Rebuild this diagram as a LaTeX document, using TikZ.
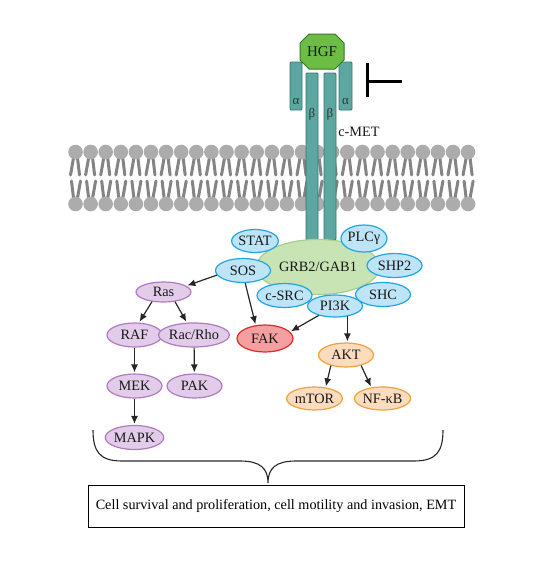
\documentclass[tikz,border=0pt]{standalone}
\usepackage{fontspec}
\setmainfont{Liberation Serif}
\usetikzlibrary{shapes.geometric,arrows.meta}
\definecolor{bluefill}{RGB}{190,228,248}
\definecolor{blueline}{RGB}{35,165,225}
\definecolor{purplefill}{RGB}{226,204,234}
\definecolor{purpleline}{RGB}{176,122,192}
\definecolor{orangefill}{RGB}{252,220,190}
\definecolor{orangeline}{RGB}{240,160,60}
\definecolor{fakfill}{RGB}{244,160,160}
\definecolor{fakline}{RGB}{225,40,40}
\definecolor{grbfill}{RGB}{200,227,180}
\definecolor{grbline}{RGB}{165,208,138}
\definecolor{hgffill}{RGB}{108,188,70}
\definecolor{hgfline}{RGB}{55,120,35}
\definecolor{metfill}{RGB}{92,168,160}
\definecolor{metline}{RGB}{48,118,112}
\definecolor{headgrey}{RGB}{172,172,172}
\definecolor{tailgrey}{RGB}{132,132,132}
\newcommand{\labelfont}{\fontsize{14.3}{16}\selectfont}
\tikzset{
  oval/.style={ellipse, line width=1.2pt, minimum width=55pt, minimum height=24pt, inner sep=0pt, font=\labelfont, text=black!90},
  blueoval/.style={oval, draw=blueline, fill=bluefill},
  purpleoval/.style={oval, draw=purpleline, fill=purplefill},
  orangeoval/.style={oval, draw=orangeline, fill=orangefill},
  arrowline/.style={line width=1.2pt, draw=black!85, -{Latex[length=8pt,width=7pt]}, shorten >=1pt},
  metbar/.style={draw=metline, fill=metfill, line width=0.8pt, rounded corners=1pt}
}
\begin{document}
\begin{tikzpicture}[x=1pt,y=-1pt]
\useasboundingbox (0,0) rectangle (550,562);
% membrane
\foreach \i in {0,...,26}{
  \pgfmathsetmacro{\x}{75.5+15.1*\i}
  \draw[tailgrey, line width=3pt, line cap=round] (\x-2,158) -- (\x-5,175) (\x+2,158) -- (\x+4,175);
  \draw[tailgrey, line width=3pt, line cap=round] (\x-2,198) -- (\x-4,181) (\x+2,198) -- (\x+5,181);
  \fill[headgrey] (\x,152) circle (7.3);
  \fill[headgrey] (\x,204) circle (7.3);
}
% receptor
\draw[metbar] (290,62) rectangle (302,110);
\draw[metbar] (339,62) rectangle (352,110);
\draw[metbar] (306,73) rectangle (318,240);
\draw[metbar] (324,73) rectangle (336,240);
\node[font=\fontsize{13}{14}\selectfont, text=black!80] (alphaL) at (296,101) {α};
\node[font=\fontsize{13}{14}\selectfont, text=black!80] (alphaR) at (345.5,101) {α};
\node[font=\fontsize{13}{14}\selectfont, text=black!80] (betaL) at (312,114) {β};
\node[font=\fontsize{13}{14}\selectfont, text=black!80] (betaR) at (330,114) {β};
\node[font=\labelfont, text=black!90] (cmet) at (359,132) {c-MET};
\draw[hgfline, fill=hgffill, line width=1pt] (309,34) -- (335,34) -- (344,43) -- (344,60) -- (335,69) -- (309,69) -- (300,60) -- (300,43) -- cycle;
\node[font=\fontsize{15}{16}\selectfont, text=black!90] (hgf) at (322,51.5) {HGF};
% inhibitor
\draw[line width=3pt] (367,63) -- (367,97);
\draw[line width=3pt] (367,81) -- (402,81);
% adaptor complex
\node[ellipse, draw=grbline, fill=grbfill, line width=1.2pt, minimum width=123pt, minimum height=55pt, font=\labelfont, text=black!90] (grb) at (318,267) {GRB2/GAB1};
\node[blueoval, minimum width=46pt, minimum height=23pt] (stat) at (255,241) {STAT};
\node[blueoval, minimum width=46pt, minimum height=27pt] (plc) at (364,238.5) {PLCγ};
\node[blueoval] (shp) at (394.5,265.5) {SHP2};
\node[blueoval] (sos) at (243,270.5) {SOS};
\node[blueoval] (shc) at (383,294.5) {SHC};
\node[blueoval] (csrc) at (284.5,295.5) {c-SRC};
\node[blueoval, minimum height=22pt] (pi3k) at (335,306) {PI3K};
% downstream
\node[purpleoval, minimum height=20pt] (ras) at (163.5,292) {Ras};
\node[purpleoval] (raf) at (134.5,335) {RAF};
\node[purpleoval, minimum width=58pt] (rac) at (194,335) {Rac/Rho};
\node[purpleoval] (mek) at (134.5,386) {MEK};
\node[purpleoval] (pak) at (194.5,386) {PAK};
\node[purpleoval] (mapk) at (134.5,437.5) {MAPK};
\node[oval, draw=fakline, fill=fakfill, minimum width=56pt, minimum height=27pt] (fak) at (265,338.5) {FAK};
\node[orangeoval] (akt) at (346,355) {AKT};
\node[orangeoval, minimum height=23pt] (mtor) at (314.5,398.5) {mTOR};
\node[orangeoval, minimum height=23pt] (nfkb) at (382.5,398.5) {NF-κB};
% arrows
\draw[arrowline] (sos.-170) -- (ras.15);
\draw[arrowline] (sos.-80) -- (fak.125);
\draw[arrowline] (pi3k.-150) -- (fak.15);
\draw[arrowline] (pi3k.-40) -- (pi3k.-40 |- akt.north);
\draw[arrowline] (ras.-140) -- (raf.70);
\draw[arrowline] (ras.-40) -- (rac.120);
\draw[arrowline] (raf) -- (mek);
\draw[arrowline] (rac) -- (pak);
\draw[arrowline] (mek) -- (mapk);
\draw[arrowline] (akt.-145) -- (mtor.45);
\draw[arrowline] (akt.-35) -- (nfkb.135);
% brace and outcome
\coordinate (tip) at (268,483);
\draw[line width=1.1pt, black!85] (93,430) .. controls (93,452) and (100,461) .. (122,461) -- (240,461) .. controls (260,461) and (268,468) .. (tip) .. controls (268,468) and (276,461) .. (296,461) -- (414,461) .. controls (436,461) and (443,452) .. (443,430);
\node[draw, line width=1pt, minimum width=376pt, minimum height=42pt, inner sep=0pt, font=\fontsize{14.2}{16}\selectfont] (effects) at (276,506) {Cell survival and proliferation, cell motility and invasion, EMT};
\end{tikzpicture}
\end{document}
